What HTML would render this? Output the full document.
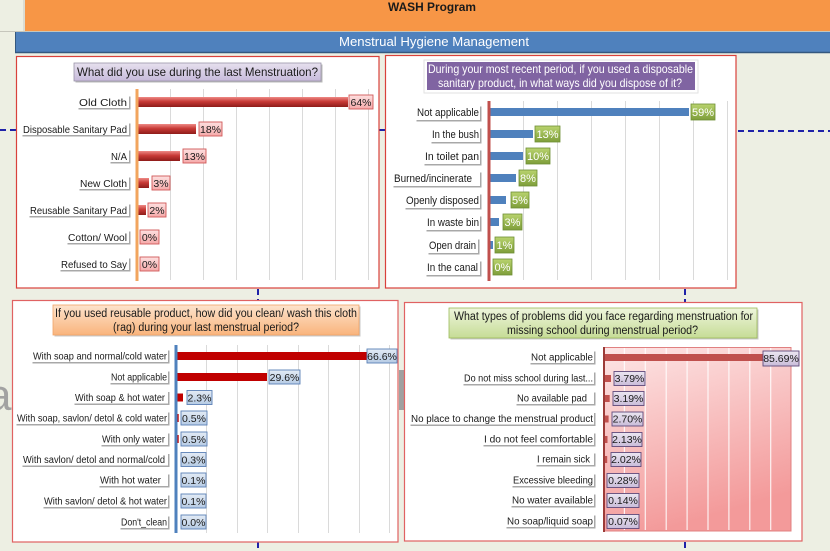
<!DOCTYPE html>
<html><head><meta charset="utf-8"><style>
html,body{margin:0;padding:0;background:#edefe3;}
svg{display:block;font-family:"Liberation Sans",sans-serif;}
.l{font-size:10px;fill:#1a1a1a;}
.d{font-size:10px;fill:#1a1a1a;text-anchor:middle;}
</style></head><body>
<svg width="830" height="551" viewBox="0 0 830 551" xmlns="http://www.w3.org/2000/svg">
<defs>
<linearGradient id="g1bar" x1="0" y1="0" x2="0" y2="1"><stop offset="0" stop-color="#ee8a86"/><stop offset="0.45" stop-color="#c83a36"/><stop offset="1" stop-color="#8e1c1a"/></linearGradient>
<linearGradient id="gpink" x1="0" y1="0" x2="0" y2="1"><stop offset="0" stop-color="#fde0e0"/><stop offset="1" stop-color="#f5a9a9"/></linearGradient>
<linearGradient id="ggreen" x1="0" y1="0" x2="0" y2="1"><stop offset="0" stop-color="#b9d36e"/><stop offset="1" stop-color="#7e9e3a"/></linearGradient>
<linearGradient id="gblue" x1="0" y1="0" x2="0" y2="1"><stop offset="0" stop-color="#e3ebf5"/><stop offset="1" stop-color="#b6cbe4"/></linearGradient>
<linearGradient id="glav" x1="0" y1="0" x2="0" y2="1"><stop offset="0" stop-color="#ebe6f1"/><stop offset="1" stop-color="#c9bcd9"/></linearGradient>
<linearGradient id="gt1" x1="0" y1="0" x2="0" y2="1"><stop offset="0" stop-color="#e6e0ee"/><stop offset="1" stop-color="#c7badb"/></linearGradient>
<linearGradient id="gt3" x1="0" y1="0" x2="0" y2="1"><stop offset="0" stop-color="#fde3cc"/><stop offset="1" stop-color="#f9b47c"/></linearGradient>
<linearGradient id="gt4" x1="0" y1="0" x2="0" y2="1"><stop offset="0" stop-color="#eef5dc"/><stop offset="1" stop-color="#c6dc96"/></linearGradient>
<linearGradient id="gplot" x1="0" y1="0" x2="0.3" y2="1"><stop offset="0" stop-color="#fde6e6"/><stop offset="1" stop-color="#f39a9a"/></linearGradient>
</defs>

<!-- header -->
<rect x="0" y="0" width="830" height="551" fill="#edefe3"/>
<rect x="25" y="0" width="805" height="31" fill="#f79646"/>
<line x1="24" y1="0" x2="24" y2="31" stroke="#c9c9c0" stroke-width="1"/>
<line x1="0" y1="31.5" x2="830" y2="31.5" stroke="#c6c6bc" stroke-width="1"/>
<text x="432" y="11" text-anchor="middle" font-size="12" font-weight="bold" fill="#1a1a1a" textLength="88" lengthAdjust="spacingAndGlyphs">WASH Program</text>
<rect x="15" y="32" width="815" height="21" fill="#4f81bd"/>
<line x1="15" y1="52.5" x2="830" y2="52.5" stroke="#34587f" stroke-width="1.5"/>
<line x1="15.5" y1="32" x2="15.5" y2="53" stroke="#34587f" stroke-width="1"/>
<text x="434" y="46" text-anchor="middle" font-size="13" fill="#ffffff" textLength="190" lengthAdjust="spacingAndGlyphs">Menstrual Hygiene Management</text>

<!-- ghost watermark bits -->
<text x="-13" y="410" font-size="44" fill="#a2a2a2">a</text>
<rect x="399" y="370" width="5" height="40" fill="#a0a0a0"/>

<!-- dashed connectors -->
<g stroke="#1f22a8" stroke-width="2" stroke-dasharray="6,4" fill="none">
<line x1="0" y1="130" x2="16" y2="130"/>
<line x1="379" y1="130" x2="385" y2="130"/>
<line x1="738" y1="131" x2="830" y2="131"/>
<line x1="258" y1="289" x2="258" y2="300"/>
<line x1="258" y1="542" x2="258" y2="551"/>
<line x1="685" y1="289" x2="685" y2="302"/>
<line x1="685" y1="542" x2="685" y2="551"/>
</g>

<!-- ================= PANEL 1 ================= -->
<rect x="16.5" y="56.5" width="362.5" height="231.5" fill="#ffffff" stroke="#d9413b" stroke-width="1.2"/>
<rect x="75.5" y="64.5" width="247" height="18" fill="#b8b8b8"/>
<rect x="74" y="63" width="247" height="18" fill="url(#gt1)" stroke="#9a94a8" stroke-width="0.8"/>
<text x="77" y="76" font-size="12" fill="#1a1a1a" textLength="241" lengthAdjust="spacingAndGlyphs">What did you use during the last Menstruation?</text>
<g stroke="#dadada" stroke-width="1">
<line x1="170.5" y1="89" x2="170.5" y2="280"/><line x1="203.5" y1="89" x2="203.5" y2="280"/><line x1="236.5" y1="89" x2="236.5" y2="280"/><line x1="269.5" y1="89" x2="269.5" y2="280"/><line x1="302.5" y1="89" x2="302.5" y2="280"/><line x1="335.5" y1="89" x2="335.5" y2="280"/><line x1="368.5" y1="89" x2="368.5" y2="280"/>
</g>
<line x1="137" y1="89" x2="137" y2="281" stroke="#f2a55e" stroke-width="3"/>
<g fill="url(#g1bar)">
<rect x="138.5" y="97" width="209.5" height="10"/>
<rect x="138.5" y="124" width="57.5" height="10"/>
<rect x="138.5" y="151" width="41.5" height="10"/>
<rect x="138.5" y="178" width="10.5" height="10"/>
<rect x="138.5" y="205" width="7.5" height="10"/>
</g>
<g fill="url(#gpink)" stroke="#d05858" stroke-width="0.9">
<rect x="349" y="95" width="24" height="14"/>
<rect x="199" y="122" width="23" height="14"/>
<rect x="183" y="149" width="23" height="14"/>
<rect x="152" y="176" width="18" height="14"/>
<rect x="148" y="203" width="18" height="14"/>
<rect x="140" y="230" width="19" height="14"/>
<rect x="140" y="257" width="19" height="14"/>
</g>
<g class="d" style="font-size:10.5px">
<text x="361" y="106">64%</text><text x="210.5" y="133">18%</text><text x="194.5" y="160">13%</text><text x="161" y="187">3%</text><text x="157" y="214">2%</text><text x="149.5" y="241">0%</text><text x="149.5" y="268">0%</text>
</g>
<g fill="#a8a8a8"><rect x="78.5" y="96.5" width="52" height="13"/><rect x="22.5" y="123.5" width="108" height="13"/><rect x="110.5" y="150.5" width="20" height="13"/><rect x="79.5" y="177.5" width="51" height="13"/><rect x="29.5" y="204.5" width="101" height="13"/><rect x="67.5" y="231.5" width="63" height="13"/><rect x="60.5" y="258.5" width="70" height="13"/></g>
<g fill="#ffffff"><rect x="77" y="95" width="52" height="13"/><rect x="21" y="122" width="108" height="13"/><rect x="109" y="149" width="20" height="13"/><rect x="78" y="176" width="51" height="13"/><rect x="28" y="203" width="101" height="13"/><rect x="66" y="230" width="63" height="13"/><rect x="59" y="257" width="70" height="13"/></g>
<g class="l" style="font-size:10.5px">
<text x="79" y="106" textLength="48" lengthAdjust="spacingAndGlyphs">Old Cloth</text>
<text x="23" y="133" textLength="104" lengthAdjust="spacingAndGlyphs">Disposable Sanitary Pad</text>
<text x="111" y="160" textLength="16" lengthAdjust="spacingAndGlyphs">N/A</text>
<text x="80" y="187" textLength="47" lengthAdjust="spacingAndGlyphs">New Cloth</text>
<text x="30" y="214" textLength="97" lengthAdjust="spacingAndGlyphs">Reusable Sanitary Pad</text>
<text x="68" y="241" textLength="59" lengthAdjust="spacingAndGlyphs">Cotton/ Wool</text>
<text x="61" y="268" textLength="66" lengthAdjust="spacingAndGlyphs">Refused to Say</text>
</g>

<!-- ================= PANEL 2 ================= -->
<rect x="385.5" y="55.5" width="350.5" height="232.5" fill="#ffffff" stroke="#d9413b" stroke-width="1.2"/>
<rect x="424" y="60" width="274" height="33" fill="#ffffff" stroke="#e2e2e2" stroke-width="1"/>
<rect x="427" y="62" width="268" height="28" fill="#8064a2"/>
<text x="428" y="73" font-size="12" fill="#ffffff" textLength="265" lengthAdjust="spacingAndGlyphs">During your most recent period, if you used a disposable</text>
<text x="438" y="87" font-size="12" fill="#ffffff" textLength="244" lengthAdjust="spacingAndGlyphs">sanitary product, in what ways did you dispose of it?</text>
<g stroke="#dadada" stroke-width="1">
<line x1="523.5" y1="101" x2="523.5" y2="280"/><line x1="557.5" y1="101" x2="557.5" y2="280"/><line x1="591.5" y1="101" x2="591.5" y2="280"/><line x1="625.5" y1="101" x2="625.5" y2="280"/><line x1="659.5" y1="101" x2="659.5" y2="280"/><line x1="693.5" y1="101" x2="693.5" y2="280"/><line x1="727.5" y1="101" x2="727.5" y2="280"/>
</g>
<line x1="489" y1="101" x2="489" y2="281" stroke="#c0504d" stroke-width="3"/>
<g fill="#4f81bd">
<rect x="490.5" y="108" width="198.5" height="8"/>
<rect x="490.5" y="130" width="42.5" height="8"/>
<rect x="490.5" y="152" width="32.5" height="8"/>
<rect x="490.5" y="174" width="25.5" height="8"/>
<rect x="490.5" y="196" width="15.5" height="8"/>
<rect x="490.5" y="218" width="8.5" height="8"/>
<rect x="490.5" y="241" width="2.5" height="8"/>
</g>
<g fill="url(#ggreen)" stroke="#6f8f35" stroke-width="0.8">
<rect x="691" y="104" width="24" height="16"/>
<rect x="535" y="126" width="25" height="16"/>
<rect x="526" y="148" width="24" height="16"/>
<rect x="519" y="170" width="18" height="16"/>
<rect x="511" y="192" width="18" height="16"/>
<rect x="503" y="214" width="19" height="16"/>
<rect x="495" y="237" width="19" height="16"/>
<rect x="493" y="259" width="19" height="16"/>
</g>
<g class="d" style="font-size:11px;fill:#ffffff">
<text x="703" y="116">59%</text><text x="547.5" y="138">13%</text><text x="538" y="160">10%</text><text x="528" y="182">8%</text><text x="520" y="204">5%</text><text x="512.5" y="226">3%</text><text x="504.5" y="249">1%</text><text x="502.5" y="271">0%</text>
</g>
<g fill="#a8a8a8"><rect x="416.5" y="106.5" width="65" height="15"/><rect x="431.5" y="128.5" width="50" height="15"/><rect x="424.5" y="150.5" width="57" height="15"/><rect x="393.5" y="172.5" width="88" height="15"/><rect x="405.5" y="194.5" width="76" height="15"/><rect x="426.5" y="216.5" width="55" height="15"/><rect x="428.5" y="239.5" width="51" height="15"/><rect x="426.5" y="261.5" width="55" height="15"/></g>
<g fill="#ffffff"><rect x="415" y="105" width="65" height="15"/><rect x="430" y="127" width="50" height="15"/><rect x="423" y="149" width="57" height="15"/><rect x="392" y="171" width="88" height="15"/><rect x="404" y="193" width="76" height="15"/><rect x="425" y="215" width="55" height="15"/><rect x="427" y="238" width="51" height="15"/><rect x="425" y="260" width="55" height="15"/></g>
<g class="l" style="font-size:11px">
<text x="417" y="116" textLength="62" lengthAdjust="spacingAndGlyphs">Not applicable</text>
<text x="432" y="138" textLength="47" lengthAdjust="spacingAndGlyphs">In the bush</text>
<text x="425" y="160" textLength="54" lengthAdjust="spacingAndGlyphs">In toilet pan</text>
<text x="394" y="182" textLength="78" lengthAdjust="spacingAndGlyphs">Burned/incinerate</text>
<text x="406" y="204" textLength="73" lengthAdjust="spacingAndGlyphs">Openly disposed</text>
<text x="427" y="226" textLength="52" lengthAdjust="spacingAndGlyphs">In waste bin</text>
<text x="429" y="249" textLength="47" lengthAdjust="spacingAndGlyphs">Open drain</text>
<text x="427" y="271" textLength="51" lengthAdjust="spacingAndGlyphs">In the canal</text>
</g>

<!-- ================= PANEL 3 ================= -->
<rect x="12.5" y="300.5" width="385.5" height="241.5" fill="#ffffff" stroke="#e06262" stroke-width="1.2"/>
<rect x="54.5" y="306.5" width="306" height="30" fill="#c8c8c8"/>
<rect x="53" y="305" width="306" height="30" fill="url(#gt3)" stroke="#f0a468" stroke-width="0.8"/>
<text x="55" y="317" font-size="11.5" fill="#1a1a1a" textLength="302" lengthAdjust="spacingAndGlyphs">If you used reusable product, how did you clean/ wash this cloth</text>
<text x="113" y="331" font-size="11.5" fill="#1a1a1a" textLength="186" lengthAdjust="spacingAndGlyphs">(rag) during your last menstrual period?</text>
<g stroke="#dadada" stroke-width="1">
<line x1="206.5" y1="345" x2="206.5" y2="533"/><line x1="237.5" y1="345" x2="237.5" y2="533"/><line x1="267.5" y1="345" x2="267.5" y2="533"/><line x1="298.5" y1="345" x2="298.5" y2="533"/><line x1="328.5" y1="345" x2="328.5" y2="533"/><line x1="359.5" y1="345" x2="359.5" y2="533"/><line x1="389.5" y1="345" x2="389.5" y2="533"/>
</g>
<line x1="176" y1="345" x2="176" y2="533" stroke="#4f81bd" stroke-width="3"/>
<g fill="#c00000">
<rect x="177.5" y="352" width="201" height="8"/>
<rect x="177.5" y="373" width="89.5" height="8"/>
<rect x="177.5" y="393.5" width="5.5" height="8"/>
<rect x="177.5" y="414" width="1.2" height="8"/>
<rect x="177.5" y="435" width="1.2" height="8"/>
</g>
<g fill="url(#gblue)" stroke="#5b80b6" stroke-width="0.9">
<rect x="367" y="349" width="30" height="14"/>
<rect x="269" y="370" width="31" height="14"/>
<rect x="187" y="390.5" width="25" height="14"/>
<rect x="181" y="411" width="26" height="14"/>
<rect x="181" y="432" width="26" height="14"/>
<rect x="181" y="452.5" width="25" height="14"/>
<rect x="181" y="473" width="25" height="14"/>
<rect x="181" y="494" width="25" height="14"/>
<rect x="181" y="515" width="25" height="14"/>
</g>
<g class="d" style="font-size:10.5px">
<text x="382" y="360">66.6%</text><text x="284.5" y="381">29.6%</text><text x="199.5" y="401.5">2.3%</text><text x="194" y="422">0.5%</text><text x="194" y="443">0.5%</text><text x="193.5" y="463.5">0.3%</text><text x="193.5" y="484">0.1%</text><text x="193.5" y="505">0.1%</text><text x="193.5" y="526">0.0%</text>
</g>
<g fill="#a8a8a8"><rect x="32.5" y="350.5" width="137" height="13"/><rect x="110.5" y="371.5" width="59" height="13"/><rect x="74.5" y="392" width="95" height="13"/><rect x="16.5" y="412.5" width="153" height="13"/><rect x="101.5" y="433.5" width="68" height="13"/><rect x="22.5" y="454" width="147" height="13"/><rect x="99.5" y="474.5" width="70" height="13"/><rect x="43.5" y="495.5" width="126" height="13"/><rect x="120.5" y="516.5" width="49" height="13"/></g>
<g fill="#ffffff"><rect x="31" y="349" width="137" height="13"/><rect x="109" y="370" width="59" height="13"/><rect x="73" y="390.5" width="95" height="13"/><rect x="15" y="411" width="153" height="13"/><rect x="100" y="432" width="68" height="13"/><rect x="21" y="452.5" width="147" height="13"/><rect x="98" y="473" width="70" height="13"/><rect x="42" y="494" width="126" height="13"/><rect x="119" y="515" width="49" height="13"/></g>
<g class="l">
<text x="33" y="359.5" textLength="134" lengthAdjust="spacingAndGlyphs">With soap and normal/cold water</text>
<text x="111" y="380.5" textLength="56" lengthAdjust="spacingAndGlyphs">Not applicable</text>
<text x="75" y="401" textLength="90" lengthAdjust="spacingAndGlyphs">With soap &amp; hot water</text>
<text x="17" y="421.5" textLength="150" lengthAdjust="spacingAndGlyphs">With soap, savlon/ detol &amp; cold water</text>
<text x="102" y="442.5" textLength="63" lengthAdjust="spacingAndGlyphs">With only water</text>
<text x="23" y="463" textLength="142" lengthAdjust="spacingAndGlyphs">With savlon/ detol and normal/cold</text>
<text x="100" y="483.5" textLength="61" lengthAdjust="spacingAndGlyphs">With hot water</text>
<text x="44" y="504.5" textLength="123" lengthAdjust="spacingAndGlyphs">With savlon/ detol &amp; hot water</text>
<text x="121" y="525.5" textLength="46" lengthAdjust="spacingAndGlyphs">Don't_clean</text>
</g>

<!-- ================= PANEL 4 ================= -->
<rect x="404.5" y="302.5" width="397.5" height="238.5" fill="#ffffff" stroke="#e06262" stroke-width="1.2"/>
<rect x="450.5" y="309.5" width="308" height="30" fill="#c8c8c8"/>
<rect x="449" y="308" width="308" height="30" fill="url(#gt4)" stroke="#9bbb59" stroke-width="0.8"/>
<text x="454" y="320" font-size="11.5" fill="#1a1a1a" textLength="299" lengthAdjust="spacingAndGlyphs">What types of problems did you face regarding menstruation for</text>
<text x="507" y="334" font-size="11.5" fill="#1a1a1a" textLength="191" lengthAdjust="spacingAndGlyphs">missing school during menstrual period?</text>
<rect x="603.5" y="347.5" width="187.5" height="183.5" fill="url(#gplot)" stroke="#e08080" stroke-width="1"/>
<g stroke="#ffffff" stroke-width="1.2" opacity="0.85">
<line x1="624.4" y1="348" x2="624.4" y2="530"/><line x1="645.3" y1="348" x2="645.3" y2="530"/><line x1="666.2" y1="348" x2="666.2" y2="530"/><line x1="687.1" y1="348" x2="687.1" y2="530"/><line x1="708" y1="348" x2="708" y2="530"/><line x1="728.9" y1="348" x2="728.9" y2="530"/><line x1="749.8" y1="348" x2="749.8" y2="530"/><line x1="770.7" y1="348" x2="770.7" y2="530"/>
</g>
<line x1="604" y1="347" x2="604" y2="532" stroke="#9c3b38" stroke-width="2"/>
<g fill="#c0504d">
<rect x="605" y="354" width="177" height="7"/>
<rect x="605" y="375" width="6" height="7"/>
<rect x="605" y="395" width="4.7" height="7"/>
<rect x="605" y="415.5" width="3.6" height="7"/>
<rect x="605" y="436" width="2.5" height="7"/>
<rect x="605" y="456" width="2.2" height="7"/>
</g>
<g fill="url(#glav)" stroke="#604a7b" stroke-width="0.9">
<rect x="763" y="351" width="36" height="15"/>
<rect x="614" y="371.5" width="31" height="14"/>
<rect x="613" y="391.5" width="31" height="14"/>
<rect x="612" y="412" width="31" height="14"/>
<rect x="612" y="432.5" width="30" height="14"/>
<rect x="611" y="452.5" width="30" height="14"/>
<rect x="607" y="473.5" width="32" height="14"/>
<rect x="607" y="493.5" width="32" height="14"/>
<rect x="607" y="514.5" width="32" height="14"/>
</g>
<g class="d" style="font-size:10.5px">
<text x="781" y="362">85.69%</text><text x="629.5" y="382">3.79%</text><text x="628.5" y="402">3.19%</text><text x="627.5" y="422.5">2.70%</text><text x="627" y="443">2.13%</text><text x="626" y="463">2.02%</text><text x="623" y="484">0.28%</text><text x="623" y="504">0.14%</text><text x="623" y="525">0.07%</text>
</g>
<g fill="#a8a8a8"><rect x="530.5" y="351.5" width="65" height="13"/><rect x="463.5" y="372.5" width="132" height="13"/><rect x="516.5" y="392.5" width="79" height="13"/><rect x="410.5" y="413" width="185" height="13"/><rect x="483.5" y="433.5" width="112" height="13"/><rect x="536.5" y="453.5" width="59" height="13"/><rect x="512.5" y="474.5" width="83" height="13"/><rect x="511.5" y="494.5" width="84" height="13"/><rect x="506.5" y="515.5" width="89" height="13"/></g>
<g fill="#ffffff"><rect x="529" y="350" width="65" height="13"/><rect x="462" y="371" width="132" height="13"/><rect x="515" y="391" width="79" height="13"/><rect x="409" y="411.5" width="185" height="13"/><rect x="482" y="432" width="112" height="13"/><rect x="535" y="452" width="59" height="13"/><rect x="511" y="473" width="83" height="13"/><rect x="510" y="493" width="84" height="13"/><rect x="505" y="514" width="89" height="13"/></g>
<g class="l">
<text x="531" y="360.5" textLength="62" lengthAdjust="spacingAndGlyphs">Not applicable</text>
<text x="464" y="381.5" textLength="129" lengthAdjust="spacingAndGlyphs">Do not miss school during last...</text>
<text x="517" y="401.5" textLength="70" lengthAdjust="spacingAndGlyphs">No available pad</text>
<text x="411" y="422" textLength="182" lengthAdjust="spacingAndGlyphs">No place to change the menstrual product</text>
<text x="484" y="442.5" textLength="109" lengthAdjust="spacingAndGlyphs">I do not feel comfortable</text>
<text x="537" y="462.5" textLength="53" lengthAdjust="spacingAndGlyphs">I remain sick</text>
<text x="513" y="483.5" textLength="80" lengthAdjust="spacingAndGlyphs">Excessive bleeding</text>
<text x="512" y="503.5" textLength="81" lengthAdjust="spacingAndGlyphs">No water available</text>
<text x="507" y="524.5" textLength="86" lengthAdjust="spacingAndGlyphs">No soap/liquid soap</text>
</g>
</svg>
</body></html>
